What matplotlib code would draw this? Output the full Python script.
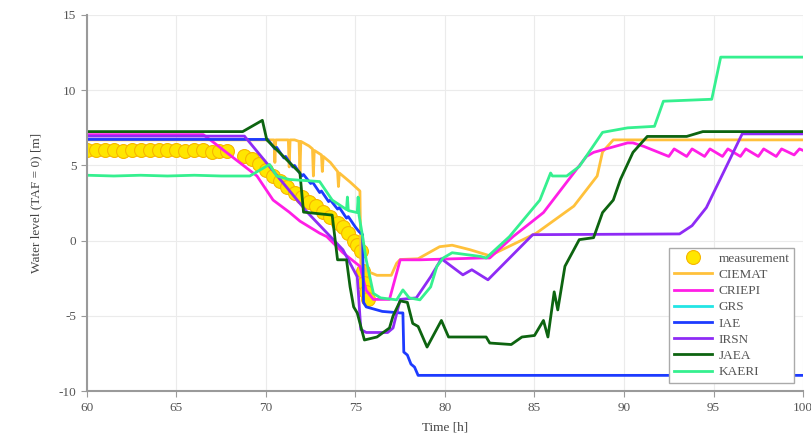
import numpy as np
import matplotlib.pyplot as plt

plt.rcParams['font.family'] = ['Liberation Serif', 'DejaVu Serif']
plt.rcParams['axes.unicode_minus'] = False

# measured water level
meas_t = [60.0, 60.5, 61.0, 61.5, 62.0, 62.5, 63.0, 63.5, 64.0, 64.5, 65.0, 65.5, 66.0, 66.5, 67.0, 67.4, 67.8,
          68.8, 69.2, 69.6, 70.0, 70.4, 70.8, 71.2, 71.6, 72.0, 72.4, 72.8, 73.2, 73.6, 74.0, 74.3, 74.6, 74.9,
          75.1, 75.3, 75.4, 75.5, 75.6, 75.7]
meas_v = [6.0, 6.0, 6.05, 6.0, 5.95, 6.0, 6.05, 6.0, 6.0, 6.05, 6.0, 5.95, 6.0, 6.0, 5.9, 5.95, 5.95,
          5.6, 5.4, 5.1, 4.7, 4.3, 4.0, 3.6, 3.2, 2.9, 2.6, 2.3, 1.9, 1.6, 1.2, 0.9, 0.5, 0.0,
          -0.3, -0.7, -2.0, -2.8, -3.4, -3.9]

ciemat_t = [60.0, 70.0, 70.45, 70.5, 70.55, 71.0, 71.25, 71.3, 71.35, 71.6, 71.85, 71.9, 71.95, 72.4, 72.6, 72.65,
            72.7, 73.1, 73.15, 73.2, 73.6, 74.0, 74.05, 74.1, 74.7, 75.25, 75.3, 75.6, 76.2, 77.0, 77.3, 77.5,
            78.5, 79.7, 80.4, 81.4, 82.5, 85.1, 87.2, 88.5, 88.8, 89.4, 100.0]
ciemat_v = [6.7, 6.7, 6.7, 5.2, 6.7, 6.7, 6.7, 4.9, 6.7, 6.7, 6.6, 4.5, 6.6, 6.3, 6.1, 4.3,
            6.0, 5.7, 4.6, 5.6, 5.2, 4.6, 3.6, 4.5, 3.9, 3.3, -1.5, -2.0, -2.3, -2.3, -1.5, -1.25,
            -1.2, -0.4, -0.3, -0.6, -1.0, 0.5, 2.3, 4.3, 5.9, 6.7, 6.7]

criepi_t = [60.0, 66.5, 67.0, 69.5, 70.4, 71.3, 71.9, 73.0, 73.4, 74.3, 75.25, 75.6, 76.0, 76.9, 77.5, 78.6,
            82.0, 82.5, 83.8, 85.5, 87.9, 88.3, 90.2, 90.5, 91.1, 92.5, 92.8, 93.5, 93.8, 94.5, 94.8, 95.5,
            95.8, 96.5, 96.8, 97.5, 97.8, 98.5, 98.8, 99.5, 99.8, 100.0]
criepi_v = [7.05, 7.05, 6.6, 4.3, 2.7, 1.9, 1.3, 0.5, 0.27, -0.8, -1.7, -3.3, -3.9, -3.9, -1.27, -1.27,
            -1.15, -1.15, 0.27, 1.87, 5.6, 5.87, 6.5, 6.5, 6.27, 5.6, 6.1, 5.6, 6.1, 5.6, 6.1, 5.6,
            6.1, 5.6, 6.1, 5.6, 6.1, 5.6, 6.1, 5.7, 6.1, 6.0]

grs_t = []
grs_v = []

iae_t = [60.0, 70.1, 70.5, 70.6, 71.0, 71.1, 71.5, 71.6, 72.0, 72.1, 72.5, 72.6, 73.0, 73.1, 73.5, 73.6,
         74.0, 74.1, 74.5, 74.6, 75.0, 75.2, 75.4, 75.45, 75.6, 76.5, 77.5, 77.65, 77.7, 77.9, 78.1, 78.3,
         78.5, 100.0]
iae_v = [6.73, 6.73, 6.1, 6.2, 5.5, 5.6, 4.9, 5.0, 4.3, 4.4, 3.8, 3.9, 3.2, 3.3, 2.6, 2.7,
         2.1, 2.2, 1.5, 1.6, 0.9, 0.6, 0.4, -4.1, -4.4, -4.7, -4.8, -4.8, -7.4, -7.6, -8.2, -8.4,
         -8.95, -8.95]

irsn_t = [60.0, 68.8, 72.3, 74.3, 75.1, 75.3, 75.6, 76.8, 77.1, 77.5, 78.4, 79.2, 79.8, 81.0, 81.5, 82.4,
          84.9, 93.1, 93.8, 94.6, 96.6, 100.0]
irsn_v = [6.95, 6.95, 1.9, -0.6, -2.4, -5.9, -6.1, -6.1, -5.8, -3.9, -3.8, -2.4, -1.2, -2.27, -1.93, -2.6,
          0.4, 0.45, 1.0, 2.2, 7.1, 7.1]

jaea_t = [60.0, 68.7, 69.8, 70.05, 71.9, 72.1, 73.7, 74.0, 74.5, 74.7, 74.9, 75.1, 75.5, 76.2, 76.9, 77.1,
          77.5, 77.9, 78.2, 78.5, 79.0, 79.8, 80.2, 82.3, 82.5, 83.7, 84.3, 85.0, 85.5, 85.75, 86.1, 86.3,
          86.7, 87.5, 88.3, 88.8, 89.4, 89.8, 90.5, 91.3, 93.5, 94.4, 100.0]
jaea_v = [7.25, 7.25, 8.0, 6.7, 4.5, 1.9, 1.7, -1.27, -1.27, -3.07, -4.4, -4.8, -6.6, -6.4, -5.8, -5.0,
          -4.0, -4.1, -5.5, -5.7, -7.07, -5.3, -6.4, -6.4, -6.8, -6.9, -6.4, -6.3, -5.3, -6.4, -3.4, -4.6,
          -1.7, 0.07, 0.2, 1.87, 2.7, 4.07, 5.87, 6.93, 6.93, 7.25, 7.25]

kaeri_t = [60.0, 61.5, 63.0, 64.5, 66.0, 67.5, 69.1, 70.2, 70.6, 71.3, 73.0, 73.7, 74.5, 74.55, 74.6, 75.1,
           75.15, 75.2, 75.4, 75.6, 76.0, 76.4, 77.3, 77.65, 78.0, 78.6, 79.2, 79.55, 79.9, 80.4, 82.0,
           82.3, 83.6, 85.3, 85.9, 86.0, 86.8, 87.5, 88.8, 90.2, 91.7, 92.2, 94.9, 95.4, 100.0]
kaeri_v = [4.35, 4.3, 4.35, 4.3, 4.35, 4.3, 4.3, 5.07, 4.3, 4.07, 3.93, 2.7, 2.07, 2.9, 2.0, 1.87,
           2.9, 1.7, 0.27, -1.27, -3.5, -3.8, -3.93, -3.27, -3.8, -3.93, -3.07, -1.7, -1.15, -0.8, -1.05,
           -1.15, 0.27, 2.7, 4.5, 4.3, 4.3, 4.93, 7.2, 7.5, 7.6, 9.27, 9.4, 12.2, 12.2]

series = [
    ('CIEMAT', ciemat_t, ciemat_v, '#FFC13B'),
    ('CRIEPI', criepi_t, criepi_v, '#FF1EE6'),
    ('GRS', grs_t, grs_v, '#22E5E5'),
    ('IAE', iae_t, iae_v, '#1D3BFF'),
    ('IRSN', irsn_t, irsn_v, '#8E2BF5'),
    ('JAEA', jaea_t, jaea_v, '#0D6410'),
    ('KAERI', kaeri_t, kaeri_v, '#35F08F'),
]

fig = plt.figure(figsize=(8.12, 4.41), dpi=100)
ax = fig.add_axes([0.107, 0.113, 0.882, 0.853])

ax.plot(meas_t, meas_v, 'o', ms=10, mfc='#FFE600', mec='#F7B500', mew=0.8, label='measurement')
for name, t, v, c in series:
    ax.plot(t, v, color=c, lw=2, label=name)

ax.set_xlim(60, 100)
ax.set_ylim(-10, 15)
ax.set_xticks(np.arange(60, 101, 5))
ax.set_yticks(np.arange(-10, 16, 5))
ax.grid(True, color='#EBEBEB', lw=0.8)
ax.set_axisbelow(True)

for side in ['top', 'right']:
    ax.spines[side].set_visible(False)
for side in ['left', 'bottom']:
    ax.spines[side].set_color('#9A9A9A')
    ax.spines[side].set_linewidth(1.5)
ax.tick_params(direction='out', length=4, color='#9A9A9A', labelcolor='#555555', labelsize=9.5)

ax.set_xlabel('Time [h]', color='#444444', fontsize=9.5, labelpad=6)
ax.set_ylabel('Water level (TAF = 0) [m]', color='#444444', fontsize=9.5, labelpad=12)

leg = ax.legend(loc='upper right', bbox_to_anchor=(0.997, 0.398), fontsize=9.5, handlelength=2.9,
                labelspacing=0.3, borderpad=0.35, handletextpad=0.5, fancybox=False, framealpha=1,
                edgecolor='#AAAAAA')
for txt in leg.get_texts():
    txt.set_color('#555555')

fig.savefig('out.png', dpi=100)
